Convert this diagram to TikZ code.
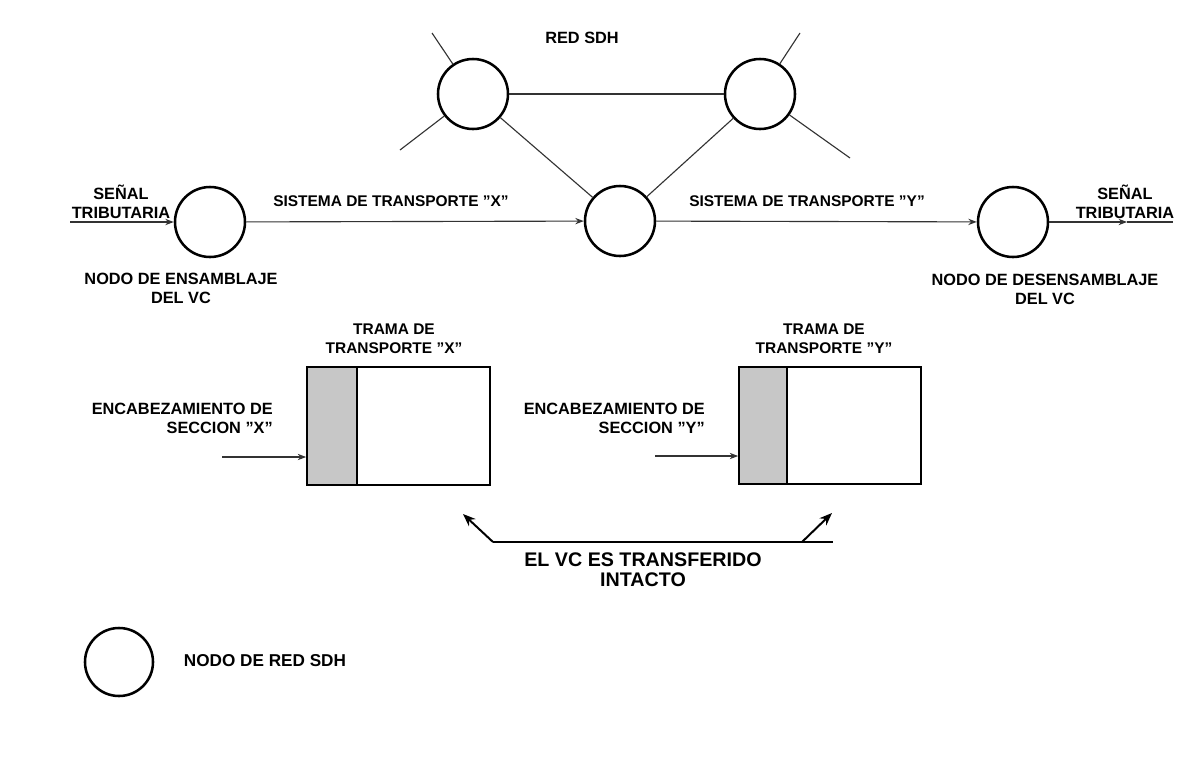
\documentclass[tikz,border=0pt]{standalone}
\usepackage{fontspec}
\setmainfont{Liberation Sans}
\usetikzlibrary{positioning, arrows.meta}

\begin{document}
\begin{tikzpicture}[x=0.025cm, y=-0.025cm, >={Stealth[length=6pt, width=4.5pt]},
    sdh/.style={circle, draw, line width=1.8pt, minimum size=1.75cm, inner sep=0pt},
    lbl/.style={font=\fontsize{11.6}{13.5}\selectfont\bfseries, align=center, inner sep=0pt},
    small/.style={font=\fontsize{11}{13.5}\selectfont\bfseries},
    link/.style={line width=0.8pt, draw=black!80},
    frame/.style={draw, line width=1.2pt, inner sep=0pt},
    hdr/.style={frame, fill=black!22}]
    \useasboundingbox (0,0) rectangle (1185,771);

    % red SDH
    \node[lbl] (redsdh) at (582,38) {RED SDH};
    \node[sdh] (tl) at (473,94) {};
    \node[sdh] (tr) at (760,94) {};
    \node[sdh] (en) at (210,222) {};
    \node[sdh] (cn) at (620,221) {};
    \node[sdh] (dn) at (1013,222) {};

    \coordinate (tlUp) at (432,33);
    \coordinate (tlDown) at (400,150);
    \coordinate (trUp) at (800,33);
    \coordinate (trDown) at (850,158);
    \coordinate (inStart) at (70,222);
    \coordinate (outTip) at (1127,222);
    \coordinate (outEnd) at (1173,222);

    \draw[link] (tl) -- (tlUp);
    \draw[link] (tl) -- (tlDown);
    \draw[link] (tr) -- (trUp);
    \draw[link] (tr) -- (trDown);
    \draw[link] (tl) -- (tr);
    \draw[link] (tl) -- (cn);
    \draw[link] (tr) -- (cn);

    \draw[link, ->] (inStart) -- (en);
    \draw[link, ->] (en) -- (cn);
    \draw[link, ->] (cn) -- (dn);
    \draw[link, ->] (dn) -- (outTip);
    \draw[link] (outTip) -- (outEnd);

    \node[lbl] (senalIn) at (121,202) {SEÑAL\\TRIBUTARIA};
    \node[lbl] (senalOut) at (1125,202) {SEÑAL\\TRIBUTARIA};
    \node[lbl, small] (sistX) at (391,201) {SISTEMA DE TRANSPORTE "X"};
    \node[lbl, small] (sistY) at (807,201) {SISTEMA DE TRANSPORTE "Y"};
    \node[lbl] (ensam) at (181,288) {NODO DE ENSAMBLAJE\\DEL VC};
    \node[lbl] (desens) at (1045,289) {NODO DE DESENSAMBLAJE\\DEL VC};

    % tramas
    \node[frame, minimum width=4.575cm, minimum height=2.95cm] (frameX) at (398.5,426) {};
    \node[hdr, minimum width=1.25cm, minimum height=2.95cm] (hdrX) at (332,426) {};
    \node[frame, minimum width=4.55cm, minimum height=2.925cm] (frameY) at (830,425.5) {};
    \node[hdr, minimum width=1.2cm, minimum height=2.925cm] (hdrY) at (763,425.5) {};

    \node[lbl, small] (tramaX) at (394,339) {TRAMA DE\\TRANSPORTE "X"};
    \node[lbl, small] (tramaY) at (824,339) {TRAMA DE\\TRANSPORTE "Y"};
    \node[lbl, align=right, anchor=east] (encX) at (273,418) {ENCABEZAMIENTO DE\\SECCION "X"};
    \node[lbl, align=right, anchor=east] (encY) at (705,418) {ENCABEZAMIENTO DE\\SECCION "Y"};

    \coordinate (encXin) at (222,457);
    \coordinate (encYin) at (655,456);
    \draw[link, ->] (encXin) -- (encXin -| hdrX.west);
    \draw[link, ->] (encYin) -- (encYin -| hdrY.west);

    % VC transferido
    \coordinate (vcL) at (493,542);
    \coordinate (vcR) at (833,542);
    \coordinate (kneeR) at (802,542);
    \coordinate (tipL) at (463,514);
    \coordinate (tipR) at (832,513);
    \draw[line width=1.4pt] (vcL) -- (vcR);
    \draw[line width=1.4pt, -{Stealth[length=9pt, width=7pt]}] (vcL) -- (tipL);
    \draw[line width=1.4pt, -{Stealth[length=9pt, width=7pt]}] (kneeR) -- (tipR);
    \node[lbl, font=\fontsize{14}{14.5}\selectfont\bfseries] (transf) at (643,570) {EL VC ES TRANSFERIDO\\INTACTO};

    % leyenda
    \node[sdh, minimum size=1.7cm] (legnode) at (119,662) {};
    \node[lbl, font=\fontsize{12.2}{14}\selectfont\bfseries] (legtext) at (265,661) {NODO DE RED SDH};
\end{tikzpicture}
\end{document}
